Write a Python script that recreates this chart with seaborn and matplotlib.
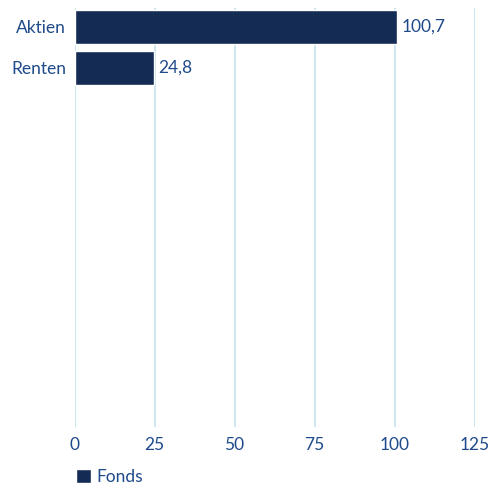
import matplotlib
matplotlib.use("Agg")
import matplotlib.pyplot as plt
import seaborn as sns
import pandas as pd
from matplotlib.patches import Patch

# Daten
kategorien = ["Aktien", "Renten"]
werte = [100.7, 24.8]
labels = ["100,7", "24,8"]
serie = "Fonds"
xticks = [0, 25, 50, 75, 100, 125]

bar_farbe = "#142b54"
text_farbe = "#1f4a8a"
grid_farbe = "#c3e3ee"
fs = 12.5

df = pd.DataFrame({"kategorie": kategorien, "wert": werte})

sns.set_style("white")
plt.rcParams["font.family"] = ["Lato", "DejaVu Sans"]

fig = plt.figure(figsize=(4.91, 4.90), dpi=100)
ax = fig.add_axes([74.5 / 491, 1 - 427 / 490, 400 / 491, 419 / 490])

sns.barplot(data=df, x="wert", y="kategorie", orient="h", color=bar_farbe,
            width=0.83, saturation=1, ax=ax, zorder=3)

for bar, lab in zip(ax.patches, labels):
    ax.text(bar.get_width() + 1.5, bar.get_y() + bar.get_height() / 2, lab,
            va="center", ha="left", color=text_farbe, fontsize=fs)

ax.set_xlim(0, 125)
ax.set_ylim(9.76, -0.46)
ax.set_xticks(xticks)
ax.set_xticklabels([str(t) for t in xticks])
ax.xaxis.grid(True, color=grid_farbe, linewidth=1.2, zorder=0)
ax.yaxis.grid(False)
for s in ax.spines.values():
    s.set_visible(False)
ax.tick_params(axis="both", length=0, colors=text_farbe, labelsize=fs)
ax.tick_params(axis="x", pad=7)
ax.tick_params(axis="y", pad=6)
ax.set_xlabel("")
ax.set_ylabel("")

handle = Patch(facecolor=bar_farbe, label=serie)
fig.legend(handles=[handle], loc="center left", bbox_to_anchor=(76 / 491, 1 - 477 / 490),
           frameon=False, fontsize=fs, labelcolor=text_farbe, borderpad=0,
           borderaxespad=0, handlelength=0.85, handleheight=0.85, handletextpad=0.3)

fig.savefig("out.png", dpi=100)
